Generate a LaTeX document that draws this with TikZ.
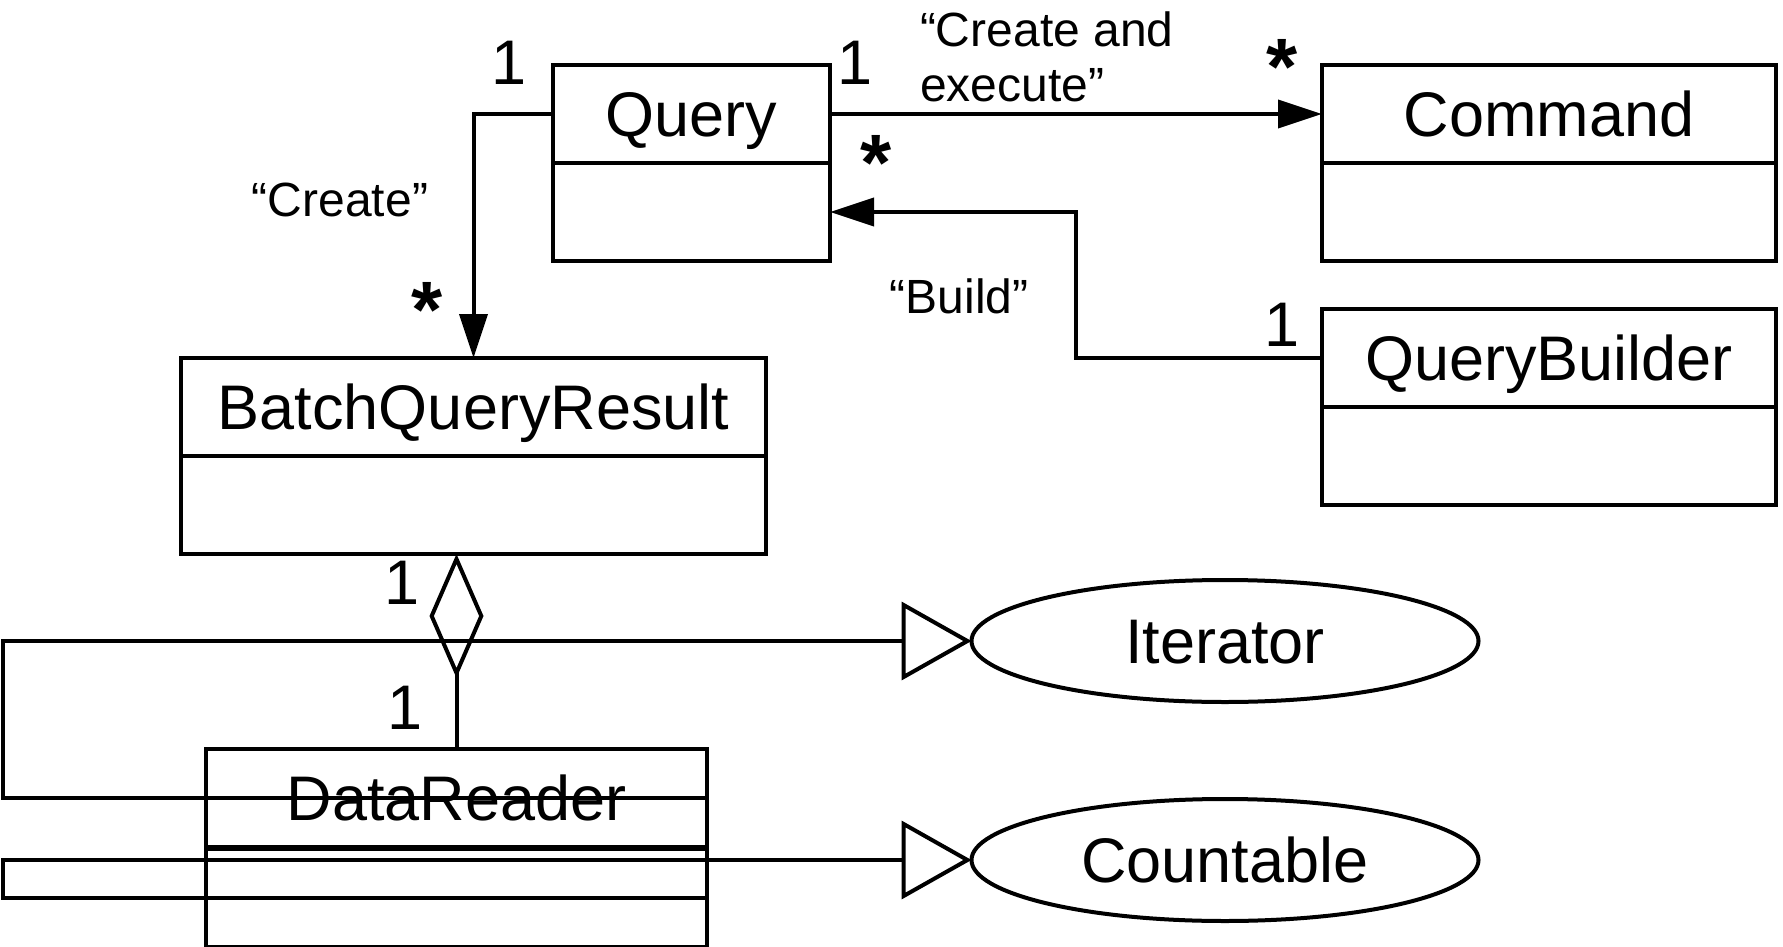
\documentclass[tikz,border=0pt]{standalone}
\usepackage{fontspec}
\setmainfont{Liberation Sans}
\usetikzlibrary{arrows.meta, positioning, calc, shapes.geometric}

\newcommand{\clsfont}{\fontsize{31.5}{36}\selectfont}
\newcommand{\lblfont}{\fontsize{24}{27.5}\selectfont}

\begin{document}
\begin{tikzpicture}[x=0.5pt, y=-0.5pt, line width=2pt,
	clshead/.style={draw, rectangle, inner sep=0pt, outer sep=0pt, minimum height=49pt, text height=22.5pt, text depth=0pt, font=\clsfont},
	clsbody/.style={draw, rectangle, inner sep=0pt, outer sep=0pt, minimum height=49pt},
	iface/.style={draw, ellipse, inner sep=0pt, outer sep=0pt, minimum width=253.5pt, minimum height=61pt, text height=22.5pt, text depth=0pt, font=\clsfont},
	mult/.style={font=\clsfont, inner sep=0pt},
	multstar/.style={font=\fontsize{40}{44}\selectfont\bfseries, inner sep=0pt},
	lbl/.style={font=\lblfont, inner sep=0pt, align=left},
	assoc/.style={-{Triangle[length=22pt, width=14pt]}},
	realize/.style={-{Triangle[open, length=35pt, width=39pt]}},
	aggr/.style={{Diamond[open, length=62pt, width=27pt]}-}]
	\useasboundingbox (0,0) rectangle (1783,947);
	% classes
	\node[clshead, minimum width=138.5pt] (query) at (691.5,114) {Query};
	\node[clsbody, minimum width=138.5pt, below=0pt of query] (querybody) {};
	\node[clshead, minimum width=227pt] (command) at (1549,114) {Command};
	\node[clsbody, minimum width=227pt, below=0pt of command] (commandbody) {};
	\node[clshead, minimum width=227pt] (qbuilder) at (1549,358) {QueryBuilder};
	\node[clsbody, minimum width=227pt, below=0pt of qbuilder] (qbuilderbody) {};
	\node[clshead, minimum width=292.5pt] (bqr) at (473.5,407) {BatchQueryResult};
	\node[clsbody, minimum width=292.5pt, below=0pt of bqr] (bqrbody) {};
	\node[clshead, minimum width=250.5pt] (dreader) at (456.5,797.5) {DataReader};
	\node[clsbody, minimum width=250.5pt, below=1.2pt of dreader] (dreaderbody) {};
	% interfaces
	\node[iface] (iterator) at (1225,641) {Iterator};
	\node[iface] (countable) at (1225,860) {Countable};
	% connectors
	\draw[assoc] (query.west) -| (bqr.north);
	\draw[assoc] (query.east) -- (command.west);
	\draw[assoc] (qbuilder.west) -- ++(-246,0) |- (querybody.east);
	\draw[aggr] (dreader.north |- bqrbody.south) -- (dreader.north);
	\draw[realize] (dreader.east) -- ++(-704,0) |- (iterator.west);
	\draw[realize] (dreaderbody.east) -- ++(-704,0) |- (countable.west);
	% labels
	\path ($(query.north west)+(-44,-2)$) node[mult] {1};
	\path ($(query.north east)+(25,-2)$) node[mult] {1};
	\path ($(query.north east)+(88,-8)$) node[lbl, anchor=west] {“Create and\\execute”};
	\path ($(command.north west)+(-40,2)$) node[multstar] {*};
	\path ($(querybody.north east)+(46,0)$) node[multstar] {*};
	\path ($(query.west)+(-213,86)$) node[lbl] {“Create”};
	\path ($(bqr.north)+(-46.5,-48)$) node[multstar] {*};
	\path ($(querybody.east)+(129,84.5)$) node[lbl] {“Build”};
	\path ($(qbuilder.north west)+(-40,16)$) node[mult] {1};
	\path ($(bqrbody.south)+(-71.5,29)$) node[mult] {1};
	\path ($(dreader.north)+(-51.5,-41)$) node[mult] {1};
\end{tikzpicture}
\end{document}
